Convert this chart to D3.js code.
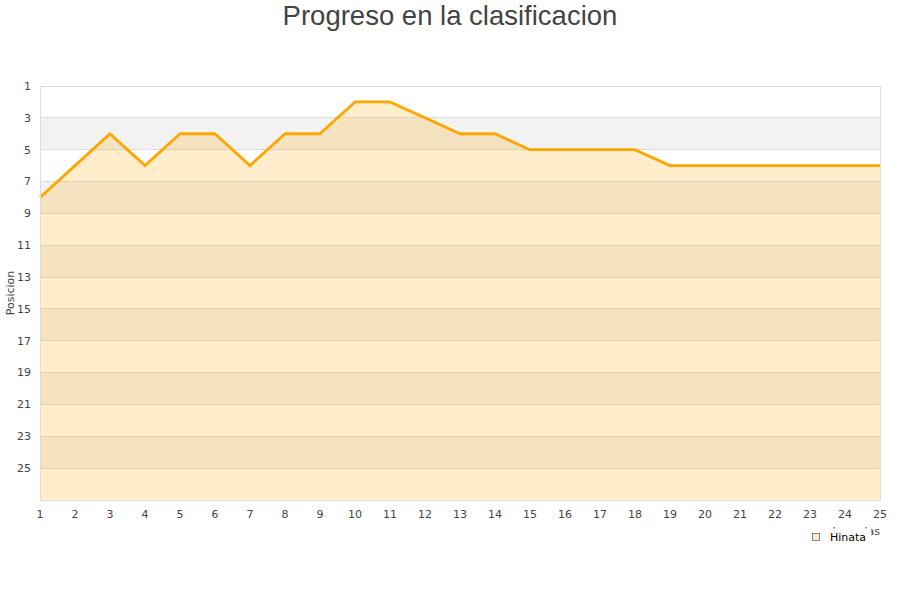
<!DOCTYPE html>
<html><head><meta charset="utf-8">
<script src="https://cdn.jsdelivr.net/npm/d3@7"></script>
<style>body{margin:0;background:#fff}svg{display:block}</style>
</head><body>
<script>
const jornadas = [1,2,3,4,5,6,7,8,9,10,11,12,13,14,15,16,17,18,19,20,21,22,23,24,25];
const posicion = [8,6,4,6,4,4,6,4,4,2,2,3,4,4,5,5,5,5,6,6,6,6,6,6,6];
const yTicks = [1,3,5,7,9,11,13,15,17,19,21,23,25];
const seriesName = "Hinata";
const title = "Progreso en la clasificacion";
const yTitle = "Posicion";
const xTitle = "Jornadas";

const W = 900, H = 600;
const svg = d3.select("body").append("svg").attr("width", W).attr("height", H);
const x = d3.scaleLinear().domain([1,25]).range([40,880]);
const y = d3.scaleLinear().domain([1,27]).range([86,500]);

// bands
const bands = d3.range(1,27,2);
svg.append("g").selectAll("rect").data(bands).join("rect")
  .attr("x", x(1)).attr("width", x(25)-x(1))
  .attr("y", d => y(d)).attr("height", d => y(d+2)-y(d))
  .attr("fill", (d,i) => i%2 ? "#f2f2f2" : "#ffffff");

// grid
svg.append("g").selectAll("line").data(yTicks).join("line")
  .attr("x1", x(1)).attr("x2", x(25)).attr("y1", d => y(d)).attr("y2", d => y(d))
  .attr("stroke", "#dddddd").attr("stroke-width", 1).attr("shape-rendering","crispEdges");

// area
const area = d3.area().x((d,i) => x(jornadas[i])).y0(y(27)).y1(d => y(d));
svg.append("path").datum(posicion).attr("d", area).attr("fill", "rgba(255,165,0,0.2)");
const line = d3.line().x((d,i) => x(jornadas[i])).y(d => y(d));
svg.append("path").datum(posicion).attr("d", line).attr("fill","none")
  .attr("stroke","#ffa500").attr("stroke-width",2.8).attr("stroke-linejoin","round");

// border
svg.append("path").attr("d", `M${x(1)},${y(1)}V${y(27)}H${x(25)}V${y(1)}`)
  .attr("fill","none").attr("stroke","#dddddd").attr("shape-rendering","crispEdges");

// y ticks
svg.append("g").selectAll("text").data(yTicks).join("text")
  .attr("x", 31).attr("y", d => y(d)).attr("dy","0.35em").attr("text-anchor","end")
  .attr("font-family","DejaVu Sans").attr("font-size",11).attr("fill","#444")
  .text(d => d);
// x ticks
svg.append("g").selectAll("text").data(jornadas).join("text")
  .attr("x", d => x(d)).attr("y", 518).attr("text-anchor","middle")
  .attr("font-family","DejaVu Sans").attr("font-size",11).attr("fill","#444")
  .text(d => d);

// title
svg.append("text").attr("x",450).attr("y",25).attr("text-anchor","middle")
  .attr("font-family","Liberation Sans, Arial").attr("font-size",27.5).attr("fill","#444").text(title);

// y title
svg.append("text").attr("transform",`translate(14,${(y(1)+y(27))/2}) rotate(-90)`)
  .attr("text-anchor","middle").attr("font-family","DejaVu Sans").attr("font-size",11).attr("fill","#444").text(yTitle);

// x title
svg.append("text").attr("x",880).attr("y",535).attr("text-anchor","end")
  .attr("font-family","DejaVu Sans").attr("font-size",11).attr("fill","#444").text(xTitle);

// legend
const lg = svg.append("g");
lg.append("rect").attr("x",806).attr("y",528.5).attr("width",65).attr("height",20).attr("fill","#fff");
lg.append("rect").attr("x",812.5).attr("y",533.5).attr("width",7).attr("height",7)
  .attr("fill","#ffedcc").attr("stroke","#888");
lg.append("text").attr("x",830).attr("y",540.5).attr("font-family","DejaVu Sans").attr("font-size",11)
  .attr("fill","#000").text(seriesName);
</script>
</body></html>
